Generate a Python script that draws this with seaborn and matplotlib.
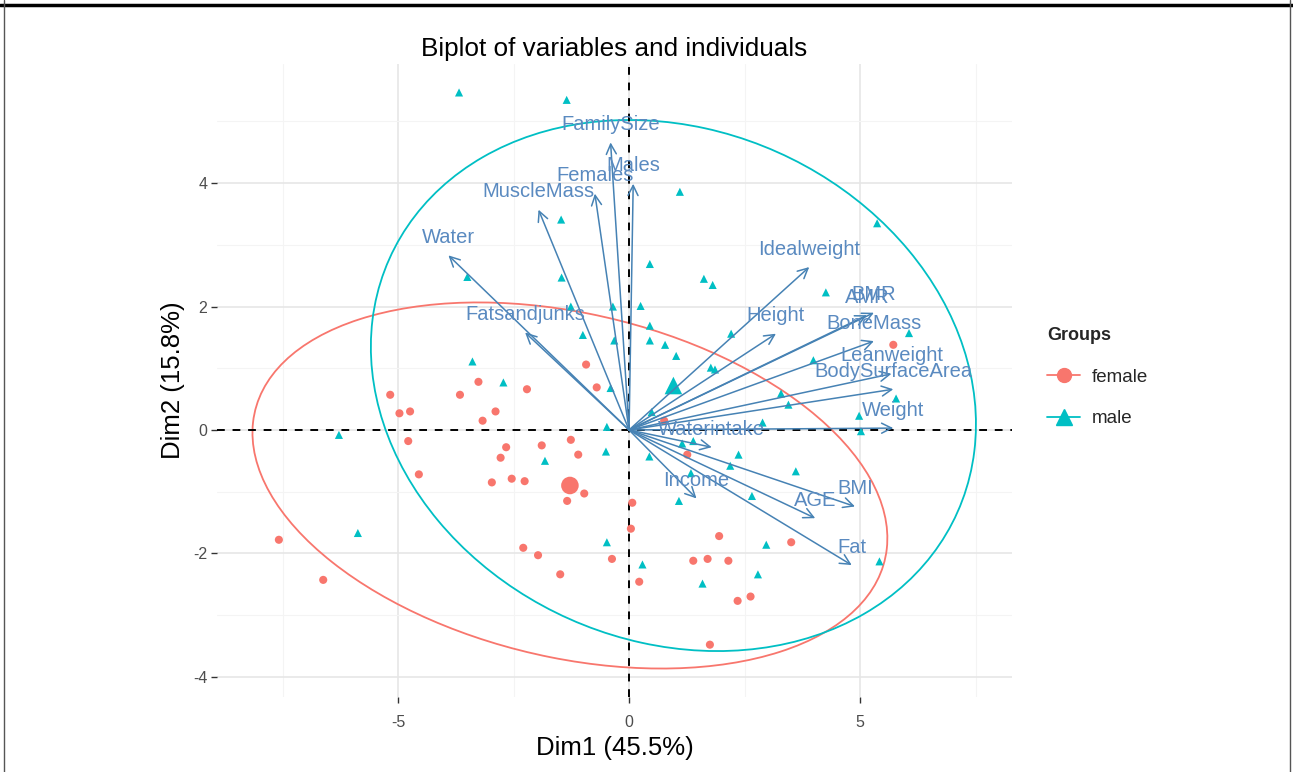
import pandas as pd
import matplotlib.pyplot as plt
import seaborn as sns
from matplotlib.patches import Ellipse
from matplotlib.lines import Line2D
from matplotlib.ticker import MultipleLocator

# individuals (PCA scores)
female_x = [-5.17, -4.97, -4.74, -4.78, -4.55, -3.66, -3.26, -2.89, -3.17, -2.21,
            -0.93, -0.70, -2.66, -2.78, -1.89, -1.26, -1.10, -2.97, -2.54, -2.26,
            -0.97, -1.34, -7.58, -6.62, -2.29, -1.97, -1.49, -0.37, 0.07, 0.04,
            0.22, 1.95, 1.39, 1.70, 2.15, 3.51, 2.35, 2.63, 1.75, 1.26, 0.76, 5.72]
female_y = [0.57, 0.27, 0.30, -0.18, -0.72, 0.57, 0.78, 0.30, 0.15, 0.66,
            1.06, 0.69, -0.28, -0.45, -0.25, -0.16, -0.40, -0.85, -0.79, -0.83,
            -1.03, -1.15, -1.78, -2.43, -1.91, -2.03, -2.34, -2.09, -1.18, -1.60,
            -2.46, -1.72, -2.12, -2.09, -2.12, -1.82, -2.77, -2.70, -3.48, -0.40, 0.15, 1.38]

male_x = [-3.68, -1.35, 1.10, -1.47, -3.50, -1.46, 0.45, 1.62, 1.81, -1.26,
          -0.35, 0.25, 0.45, -1.00, -0.32, 0.45, 0.78, 1.02, -3.39, 2.21,
          -2.72, -0.40, -0.48, -0.50, -1.82, -6.28, -5.87, -0.48, 0.44, 1.15,
          1.39, 2.37, 2.19, 1.34, 3.61, 2.66, 1.08, 0.29, 2.97, 2.79,
          1.59, 5.42, 2.89, 5.02, 1.77, 1.86, 4.26, 3.99, 6.06, 5.78,
          3.29, 3.45, 4.98, 0.49, 5.37]
male_y = [5.47, 5.35, 3.86, 3.41, 2.48, 2.47, 2.69, 2.45, 2.35, 2.00,
          2.00, 2.01, 1.69, 1.54, 1.45, 1.45, 1.38, 1.20, 1.11, 1.56,
          0.77, 0.68, 0.05, -0.35, -0.50, -0.08, -1.67, -1.82, -0.43, -0.22,
          -0.18, -0.40, -0.58, -0.70, -0.67, -1.07, -1.15, -2.18, -1.86, -2.34,
          -2.49, -2.13, 0.12, -0.02, 1.01, 0.98, 2.23, 1.13, 1.57, 0.51,
          0.59, 0.41, 0.23, 0.29, 3.35]

# group means
mean_groups = ['female', 'male']
mean_x = [-1.28, 0.96]
mean_y = [-0.90, 0.72]

# variables (arrow tips)
var_names = ['FamilySize', 'Males', 'Females', 'MuscleMass', 'Water', 'Fatsandjunks',
             'Idealweight', 'Height', 'AMR', 'BMR', 'BoneMass', 'Leanweight',
             'BodySurfaceArea', 'Weight', 'Waterintake', 'Income', 'BMI', 'AGE', 'Fat']
var_x = [-0.40, 0.09, -0.74, -1.96, -3.91, -2.25, 3.90, 3.18, 5.15, 5.30, 5.30, 5.68,
         5.72, 5.72, 1.79, 1.46, 4.89, 4.03, 4.82]
var_y = [4.66, 3.99, 3.83, 3.57, 2.83, 1.58, 2.64, 1.56, 1.86, 1.90, 1.44, 0.91,
         0.66, 0.03, -0.28, -1.11, -1.24, -1.43, -2.19]

# concentration ellipses: centre, full width, full height, angle (deg)
ell_female = (-1.28, -0.90, 13.87, 5.63, -8.5)
ell_male = (0.96, 0.72, 13.2, 8.45, -9.3)

colors = {'female': '#F8766D', 'male': '#00BFC4'}

df = pd.DataFrame({
    'Dim1': female_x + male_x,
    'Dim2': female_y + male_y,
    'Groups': ['female'] * len(female_x) + ['male'] * len(male_x),
})
means = pd.DataFrame({'Dim1': mean_x, 'Dim2': mean_y, 'Groups': mean_groups})

sns.set_theme(style='white')
plt.rcParams['font.family'] = ['Liberation Sans', 'DejaVu Sans']
plt.rcParams['axes.unicode_minus'] = False

fig = plt.figure(figsize=(12.93, 7.72), dpi=100)
ax = fig.add_axes([0.1678, 0.097, 0.6149, 0.82])

# grid
ax.xaxis.set_major_locator(MultipleLocator(5))
ax.xaxis.set_minor_locator(MultipleLocator(2.5))
ax.yaxis.set_major_locator(MultipleLocator(2))
ax.yaxis.set_minor_locator(MultipleLocator(1))
ax.grid(which='major', color='#E6E6E6', lw=1.2)
ax.grid(which='minor', color='#F4F4F4', lw=0.8)
ax.set_axisbelow(True)

for (cx, cy, w, h, ang), g in [(ell_female, 'female'), (ell_male, 'male')]:
    ax.add_patch(Ellipse((cx, cy), w, h, angle=ang, fill=False,
                         edgecolor=colors[g], lw=1.3, zorder=2))

sns.scatterplot(data=df, x='Dim1', y='Dim2', hue='Groups', style='Groups',
                markers={'female': 'o', 'male': '^'}, palette=colors,
                s=34, edgecolor='none', legend=False, ax=ax, zorder=3)
sns.scatterplot(data=means, x='Dim1', y='Dim2', hue='Groups', style='Groups',
                markers={'female': 'o', 'male': '^'}, palette=colors,
                s=160, edgecolor='none', legend=False, ax=ax, zorder=3)

ax.axhline(0, color='black', lw=1.4, ls=(0, (4, 4)), zorder=2.5)
ax.axvline(0, color='black', lw=1.4, ls=(0, (4, 4)), zorder=2.5)

for name, vx, vy in zip(var_names, var_x, var_y):
    ax.annotate('', xy=(vx, vy), xytext=(0, 0),
                arrowprops=dict(arrowstyle='->,head_length=0.6,head_width=0.3',
                                color='steelblue', lw=1.1, shrinkA=0, shrinkB=0),
                zorder=4)
    ax.annotate(name, xy=(vx, vy), xytext=(0, 13), textcoords='offset points',
                ha='center', va='center', color='#5A8AC0', fontsize=14.5, zorder=5)

ax.set_xlim(-8.92, 8.29)
ax.set_ylim(-4.33, 5.93)
for sp in ax.spines.values():
    sp.set_visible(False)
ax.tick_params(which='major', length=4, width=1, color='#333333', labelcolor='#4D4D4D',
               labelsize=11.5, bottom=True, left=True)
ax.tick_params(axis='x', which='major', pad=9)
ax.tick_params(axis='y', which='major', pad=3)
ax.tick_params(which='minor', length=0)
ax.set_xlabel('Dim1 (45.5%)', fontsize=18.5, color='black', labelpad=4)
ax.set_ylabel('Dim2 (15.8%)', fontsize=18.5, color='black', labelpad=6)
ax.set_title('Biplot of variables and individuals', fontsize=18.8, color='black', pad=6)

handles = [Line2D([0], [0], color=colors['female'], marker='o', markersize=10, lw=1.3),
           Line2D([0], [0], color=colors['male'], marker='^', markersize=11, lw=1.3)]
leg = fig.legend(handles, ['female', 'male'], title='Groups', loc='upper left',
                 bbox_to_anchor=(0.797, 0.598), frameon=False, fontsize=13.5,
                 title_fontsize=13, handlelength=1.75, handletextpad=0.6,
                 labelspacing=1.3, alignment='left')
leg.get_title().set_fontweight('bold')

# screenshot frame
fig.add_artist(Line2D([0, 1], [0.994, 0.994], transform=fig.transFigure, color='black', lw=2.5))
fig.add_artist(Line2D([0.003, 0.003], [0, 1], transform=fig.transFigure, color='#555555', lw=1))
fig.add_artist(Line2D([0.998, 0.998], [0, 1], transform=fig.transFigure, color='#555555', lw=1))

fig.savefig('out.png', dpi=100)
